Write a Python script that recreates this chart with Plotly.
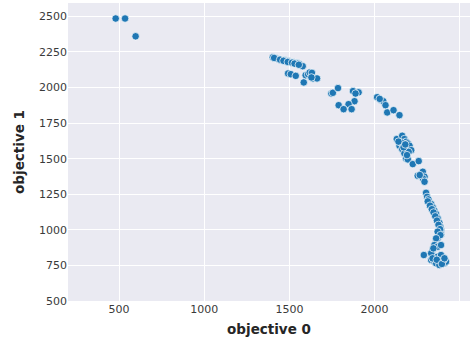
import plotly.graph_objects as go

objective_0 = [
    480, 535, 597,
    1402, 1420, 1437, 1455, 1473, 1484, 1496, 1508, 1520, 1537, 1549, 1560, 1578,
    1410, 1445, 1465, 1490, 1515, 1530, 1555,
    1492, 1508, 1537, 1584, 1595, 1609, 1619, 1632, 1638, 1662, 1629,
    1746, 1755, 1785, 1873, 1906, 1888, 1882, 1847, 1789, 1818, 1865,
    2015, 2039, 2051, 2064, 2074, 2111, 2146, 2030,
    2130, 2162, 2175, 2185, 2195, 2205, 2215, 2146, 2162, 2175, 2185, 2195,
    2224, 2259, 2156, 2200, 2140, 2170, 2190, 2180,
    2253, 2273, 2283, 2293, 2283, 2265,
    2293, 2302, 2308, 2316, 2332, 2341, 2351, 2361, 2370, 2380, 2386, 2390, 2390, 2370,
    2312, 2325, 2336, 2346, 2356, 2366, 2375, 2384,
    2370, 2386, 2361, 2351, 2370, 2390, 2341, 2332, 2289, 2332, 2351, 2370,
    2390, 2400, 2410, 2361, 2380, 2419, 2390, 2345, 2405, 2340, 2365, 2395, 2410,
]
objective_1 = [
    2485, 2485, 2360,
    2213, 2206, 2199, 2192, 2192, 2185, 2185, 2178, 2178, 2171, 2171, 2164, 2150,
    2208, 2196, 2188, 2180, 2175, 2168, 2160,
    2099, 2094, 2082, 2036, 2087, 2094, 2106, 2103, 2064, 2064, 2071,
    1958, 1963, 1996, 1975, 1966, 1958, 1904, 1883, 1876, 1848, 1848,
    1932, 1911, 1904, 1876, 1825, 1841, 1806, 1920,
    1638, 1661, 1638, 1619, 1607, 1591, 1560, 1591, 1567, 1537, 1502, 1495,
    1462, 1483, 1614, 1548, 1620, 1580, 1525, 1600,
    1380, 1390, 1408, 1373, 1362, 1385,
    1338, 1260, 1232, 1214, 1181, 1158, 1134, 1111, 1081, 1050, 1022, 999, 968, 940,
    1200, 1170, 1145, 1122, 1095, 1065, 1035, 1005,
    987, 963, 940, 893, 881, 893, 858, 835, 823, 788, 776, 811,
    800, 776, 765, 765, 753, 776, 823, 870, 790, 800, 790, 760, 800,
]

x_ticks = [500, 1000, 1500, 2000, 2500]
y_ticks = [500, 750, 1000, 1250, 1500, 1750, 2000, 2250, 2500]

fig = go.Figure(
    go.Scatter(
        x=objective_0,
        y=objective_1,
        mode="markers",
        marker=dict(color="#1f77b4", size=7.5, line=dict(color="white", width=0.7)),
        showlegend=False,
    )
)

axis_common = dict(
    showgrid=True,
    gridcolor="white",
    gridwidth=1,
    zeroline=False,
    showline=False,
    ticks="",
    tickfont=dict(family="DejaVu Sans", size=11, color="#3a3a3a"),
    title_font=dict(family="DejaVu Sans", size=13.5, color="#262626"),
)

fig.update_xaxes(
    range=[200, 2560],
    tickvals=x_ticks,
    ticktext=[str(v) for v in x_ticks],
    title_text="<b>objective 0</b>",
    title_standoff=9,
    **axis_common,
)
fig.update_yaxes(
    range=[500, 2594],
    tickvals=y_ticks,
    ticktext=[str(v) for v in y_ticks],
    title_text="<b>objective 1</b>",
    title_standoff=11,
    **axis_common,
)

fig.update_layout(
    width=473,
    height=341,
    margin=dict(l=68, r=3, t=3, b=40),
    plot_bgcolor="#EAEAF2",
    paper_bgcolor="white",
    font=dict(family="DejaVu Sans"),
)

fig.write_html("out.html")
